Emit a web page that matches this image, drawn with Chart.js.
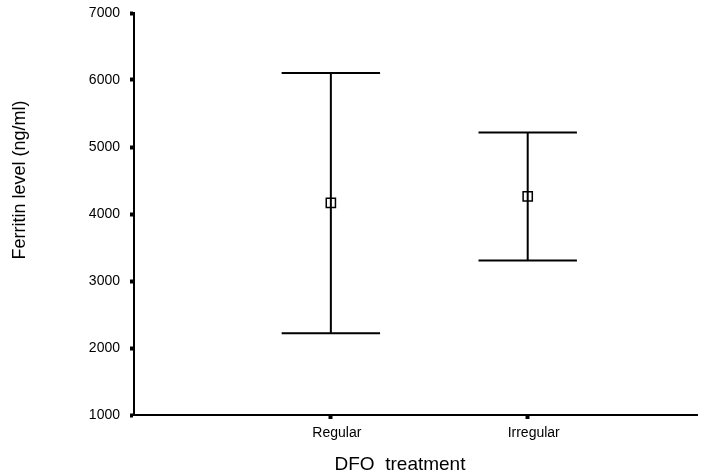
<!DOCTYPE html>
<html>
<head>
<meta charset="utf-8">
<script src="https://cdn.jsdelivr.net/npm/chart.js@4/dist/chart.umd.min.js"></script>
<style>
html,body{margin:0;padding:0;background:#fff;}
#wrap{width:711px;height:474px;position:relative;}
</style>
</head>
<body>
<div id="wrap"><canvas id="c"></canvas></div>
<script>
// ---- data ----
const categories = ['Regular', 'Irregular'];
const means = [4165, 4262];
const upper = [6105, 5215];
const lower = [2222, 3307];
const yTickValues = [1000, 2000, 3000, 4000, 5000, 6000, 7000];
const xTitle = 'DFO  treatment';
const yTitle = 'Ferritin level (ng/ml)';

const FONT = '"Liberation Sans", Arial, Helvetica, sans-serif';
const CAP = 0.25;

const datasets = [];
categories.forEach((c, i) => {
  const x = i + 1;
  datasets.push({
    type: 'scatter',
    showLine: true,
    spanGaps: false,
    borderColor: '#000',
    borderWidth: 2,
    pointRadius: 0,
    data: [
      {x: x - CAP, y: upper[i]}, {x: x + CAP, y: upper[i]}, {x: x, y: null},
      {x: x, y: upper[i]}, {x: x, y: lower[i]}, {x: x, y: null},
      {x: x - CAP, y: lower[i]}, {x: x + CAP, y: lower[i]}
    ]
  });
});
datasets.push({
  type: 'scatter',
  data: means.map((m, i) => ({x: i + 1, y: m})),
  pointStyle: 'rect',
  pointRadius: 6.5,
  pointBorderWidth: 1.5,
  pointBorderColor: '#000',
  pointBackgroundColor: 'rgba(255,255,255,0)'
});

const titlePlugin = {
  id: 'titles',
  afterDraw(chart) {
    const ctx = chart.ctx;
    ctx.save();
    ctx.fillStyle = '#000';
    ctx.textAlign = 'center';
    ctx.textBaseline = 'middle';
    ctx.font = '19px ' + FONT;
    ctx.fillText(xTitle, 400, 465);
    ctx.font = '18px ' + FONT;
    ctx.translate(20, 180);
    ctx.rotate(-Math.PI / 2);
    ctx.fillText(yTitle, 0, 0);
    ctx.restore();
  }
};

new Chart(document.getElementById('c'), {
  type: 'scatter',
  data: {datasets},
  plugins: [titlePlugin],
  options: {
    responsive: true,
    maintainAspectRatio: false,
    animation: false,
    layout: {padding: {top: 13, right: 14, left: 0, bottom: 0}},
    plugins: {legend: {display: false}, tooltip: {enabled: false}},
    scales: {
      x: {
        type: 'linear',
        min: 0,
        max: 2.86,
        afterFit(s) { s.height = 474 - 415; s.paddingLeft = 0; s.paddingRight = 0; },
        afterBuildTicks(s) { s.ticks = categories.map((c, i) => ({value: i + 1})); },
        ticks: {
          color: '#000',
          font: {family: FONT, size: 14},
          padding: 6,
          labelOffset: 6,
          callback: (v) => categories[v - 1]
        },
        grid: {drawOnChartArea: false, tickLength: 4, tickWidth: 4, tickColor: '#000'},
        border: {display: true, color: '#000', width: 2}
      },
      y: {
        type: 'linear',
        min: 1000,
        max: 7000,
        afterFit(s) { s.width = 134; s.paddingTop = 0; s.paddingBottom = 0; },
        afterBuildTicks(s) { s.ticks = yTickValues.map(v => ({value: v})); },
        ticks: {
          color: '#000',
          font: {family: FONT, size: 14},
          padding: 10,
          callback: (v) => String(v)
        },
        grid: {drawOnChartArea: false, tickLength: 4, tickWidth: 4, tickColor: '#000'},
        border: {display: true, color: '#000', width: 2}
      }
    }
  }
});
</script>
</body>
</html>
